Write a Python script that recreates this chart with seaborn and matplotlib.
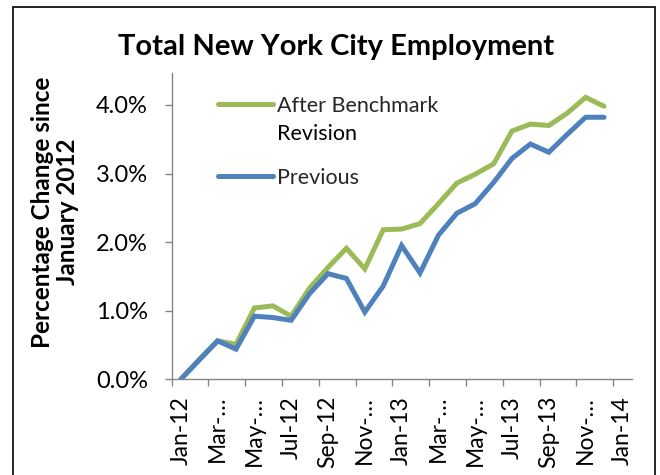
import pandas as pd
import matplotlib.pyplot as plt
import seaborn as sns
from matplotlib.patches import Rectangle
from matplotlib.ticker import FixedLocator, PercentFormatter

sns.set_theme(style="white")
plt.rcParams["font.family"] = ["Lato", "DejaVu Sans"]

# monthly series, Jan 2012 - Dec 2013 (percent change since Jan 2012)
months = ["Jan-12", "Feb-12", "Mar-12", "Apr-12", "May-12", "Jun-12",
          "Jul-12", "Aug-12", "Sep-12", "Oct-12", "Nov-12", "Dec-12",
          "Jan-13", "Feb-13", "Mar-13", "Apr-13", "May-13", "Jun-13",
          "Jul-13", "Aug-13", "Sep-13", "Oct-13", "Nov-13", "Dec-13"]
after_benchmark = [0.00, 0.29, 0.56, 0.51, 1.04, 1.07, 0.92, 1.33, 1.63, 1.91,
                   1.61, 2.18, 2.19, 2.27, 2.56, 2.86, 2.99, 3.14, 3.62, 3.72,
                   3.70, 3.88, 4.11, 3.98]
previous = [0.00, 0.28, 0.56, 0.44, 0.92, 0.90, 0.86, 1.25, 1.54, 1.47,
            0.98, 1.36, 1.95, 1.55, 2.10, 2.42, 2.56, 2.87, 3.22, 3.43,
            3.31, 3.57, 3.82, 3.82]
# category axis labels (every other month, Excel-truncated)
tick_labels = ["Jan-12", "Mar-…", "May-…", "Jul-12", "Sep-12", "Nov-…",
               "Jan-13", "Mar-…", "May-…", "Jul-13", "Sep-13", "Nov-…", "Jan-14"]
series_names = ["After Benchmark", "Previous"]
name_wrap = "Revision"   # second line of the first legend entry
colors = ["#9BBB59", "#4F81BD"]

n = len(months)
df = pd.concat([
    pd.DataFrame({"idx": range(n), "value": after_benchmark, "series": series_names[0]}),
    pd.DataFrame({"idx": range(n), "value": previous, "series": series_names[1]}),
])

fig = plt.figure(figsize=(6.6, 4.75), dpi=100)
ax = fig.add_axes([0.260, 0.2015, 0.697, 0.6455])

sns.lineplot(data=df, x="idx", y="value", hue="series", hue_order=series_names,
             palette=colors, linewidth=3.6, ax=ax, legend=True,
             solid_capstyle="round", solid_joinstyle="miter")

ax.set_xlim(-0.5, 24.5)
ax.set_ylim(0, 4.47)
ax.set_yticks([0, 1, 2, 3, 4])
ax.yaxis.set_major_formatter(PercentFormatter(decimals=1))
ax.set_xticks(range(0, 25, 2))
ax.set_xticklabels(tick_labels, rotation=90)
ax.xaxis.set_minor_locator(FixedLocator([x - 0.5 for x in range(0, 26, 2)]))
ax.tick_params(axis="x", which="major", length=0, pad=12, labelsize=16.5, labelcolor="black")
ax.tick_params(axis="x", which="minor", length=5, width=1, color="#868686", bottom=True)
ax.tick_params(axis="y", length=5, width=1, color="#868686", left=True, pad=12,
               labelsize=17, labelcolor="black")

for side in ["top", "right"]:
    ax.spines[side].set_visible(False)
for side in ["left", "bottom"]:
    ax.spines[side].set_color("#868686")
    ax.spines[side].set_linewidth(1)

ax.set_xlabel("")
ax.set_ylabel("")
fig.text(55 / 660, 1 - 212 / 475, "Percentage Change since\nJanuary 2012", rotation=90,
         ha="center", va="center", fontsize=17.5, fontweight="bold", color="black",
         linespacing=1.1, multialignment="center")
fig.text(0.509, 1 - 47 / 475, "Total New York City Employment", ha="center", va="center",
         fontsize=21, fontweight="bold", color="black")

leg = ax.legend(loc="upper left", bbox_to_anchor=(0.055, 0.995), frameon=False,
                fontsize=15.5, handlelength=2.55, handletextpad=0.15, labelspacing=2.42,
                borderaxespad=0.6)
for line in leg.get_lines():
    line.set_linewidth(3.6)
    line.set_solid_capstyle("round")

# Excel wraps the first entry; put the wrapped line under it
fig.canvas.draw()
bb = leg.get_texts()[0].get_window_extent()
fig.text(bb.x0 / fig.bbox.width, (bb.y0 - 28) / fig.bbox.height, name_wrap,
         fontsize=15.5, color="black", ha="left", va="bottom")

fig.patches.append(Rectangle((0.0197, -0.05), 0.972, 1.035, transform=fig.transFigure,
                             fill=False, edgecolor="black", linewidth=1.2))

plt.savefig("out.png", dpi=100, facecolor="white")
